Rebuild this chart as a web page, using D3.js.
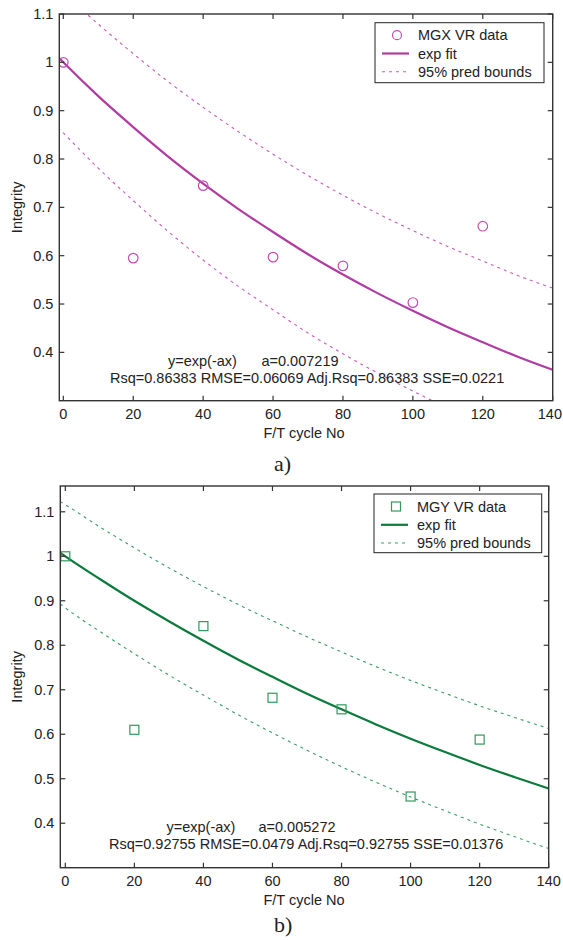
<!DOCTYPE html>
<html>
<head>
<meta charset="utf-8">
<script src="https://cdn.jsdelivr.net/npm/d3@7/dist/d3.min.js"></script>
<style>
  html, body { margin: 0; padding: 0; background: #fff; }
  svg { display: block; }
  text { font-family: "Liberation Sans", Arial, sans-serif; fill: #222; }
</style>
</head>
<body>
<svg id="chart" width="563" height="940"></svg>
<script>
// ---------- data ----------
const cycles = [0, 20, 40, 60, 80, 100, 120];
const mgxData = [1.0, 0.595, 0.745, 0.597, 0.579, 0.503, 0.661];
const mgyData = [1.0, 0.610, 0.843, 0.682, 0.656, 0.460, 0.588];

const fitX = [-1.5, 0, 10, 20, 30, 40, 50, 60, 70, 80, 90, 100, 110, 120, 130, 140];
const mgxFit   = [1.011, 1.000, 0.930, 0.866, 0.805, 0.749, 0.697, 0.649, 0.603, 0.561, 0.522, 0.486, 0.452, 0.421, 0.391, 0.364];
const mgxUpper = [1.158, 1.146, 1.079, 1.018, 0.960, 0.907, 0.857, 0.810, 0.766, 0.725, 0.687, 0.652, 0.619, 0.589, 0.559, 0.533];
const mgxLower = [0.865, 0.854, 0.781, 0.714, 0.650, 0.591, 0.537, 0.488, 0.440, 0.397, 0.357, 0.320, 0.285, 0.253, 0.223, 0.195];
const mgyFit   = [1.008, 1.000, 0.949, 0.900, 0.854, 0.810, 0.768, 0.729, 0.691, 0.656, 0.622, 0.590, 0.560, 0.531, 0.504, 0.478];
const mgyUpper = [1.123, 1.116, 1.066, 1.019, 0.974, 0.932, 0.892, 0.855, 0.819, 0.785, 0.752, 0.721, 0.692, 0.664, 0.638, 0.613];
const mgyLower = [0.893, 0.884, 0.831, 0.781, 0.733, 0.688, 0.644, 0.603, 0.564, 0.527, 0.492, 0.459, 0.428, 0.398, 0.370, 0.343];

const xTicks = [0, 20, 40, 60, 80, 100, 120, 140];
const yTicks = [0.4, 0.5, 0.6, 0.7, 0.8, 0.9, 1.0, 1.1];
const yTickLabels = ["0.4", "0.5", "0.6", "0.7", "0.8", "0.9", "1", "1.1"];
const legendLabelsA = ["MGX VR data", "exp fit", "95% pred bounds"];
const legendLabelsB = ["MGY VR data", "exp fit", "95% pred bounds"];
const annotA = ["y=exp(-ax)", "a=0.007219", "Rsq=0.86383 RMSE=0.06069 Adj.Rsq=0.86383 SSE=0.0221"];
const annotB = ["y=exp(-ax)", "a=0.005272", "Rsq=0.92755 RMSE=0.0479 Adj.Rsq=0.92755 SSE=0.01376"];

// ---------- drawing ----------
const svg = d3.select("#chart");
const FS = 14.5;
const W = 563;

function panel(cfg) {
  const g = svg.append("g");
  const x = d3.scaleLinear().domain(cfg.xDomain).range([cfg.left, cfg.right]);
  const y = d3.scaleLinear().domain(cfg.yDomain).range([cfg.bottom, cfg.top]);
  const clipId = "clip" + cfg.id;
  svg.append("clipPath").attr("id", clipId).append("rect")
    .attr("x", cfg.left).attr("y", cfg.top)
    .attr("width", cfg.right - cfg.left).attr("height", cfg.bottom - cfg.top);

  const plot = g.append("g").attr("clip-path", `url(#${clipId})`);
  const line = d3.line().x(d => x(d[0])).y(d => y(d[1])).curve(d3.curveMonotoneX);

  [cfg.upper, cfg.lower].forEach(arr => {
    plot.append("path")
      .attr("d", line(fitX.map((v, i) => [v, arr[i]])))
      .attr("fill", "none").attr("stroke", cfg.dashColor)
      .attr("stroke-width", 1.1).attr("stroke-dasharray", "3,4");
  });
  plot.append("path")
    .attr("d", line(fitX.map((v, i) => [v, cfg.fit[i]])))
    .attr("fill", "none").attr("stroke", cfg.fitColor).attr("stroke-width", 2.2);

  cycles.forEach((c, i) => {
    const px = x(c), py = y(cfg.data[i]);
    if (cfg.marker === "circle") {
      plot.append("circle").attr("cx", px).attr("cy", py).attr("r", 4.8)
        .attr("fill", "none").attr("stroke", cfg.markColor).attr("stroke-width", 1.2);
    } else {
      plot.append("rect").attr("x", px - 4.5).attr("y", py - 4.5).attr("width", 9).attr("height", 9)
        .attr("fill", "none").attr("stroke", cfg.markColor).attr("stroke-width", 1.2);
    }
  });

  // axes: box + inward ticks
  const axG = g.append("g");
  axG.append("rect").attr("x", cfg.left).attr("y", cfg.top)
    .attr("width", cfg.right - cfg.left).attr("height", cfg.bottom - cfg.top)
    .attr("fill", "none").attr("stroke", "#333").attr("stroke-width", 1.4);
  const TL = 5;
  xTicks.forEach(t => {
    const px = x(t);
    axG.append("line").attr("x1", px).attr("x2", px).attr("y1", cfg.bottom).attr("y2", cfg.bottom - TL).attr("stroke", "#333").attr("stroke-width", 1.2);
    axG.append("line").attr("x1", px).attr("x2", px).attr("y1", cfg.top).attr("y2", cfg.top + TL).attr("stroke", "#333").attr("stroke-width", 1.2);
    const lbl = axG.append("text").attr("y", cfg.bottom + 18).attr("font-size", FS).text(t);
    if (px + 12 > W - 1) {
      lbl.attr("x", W - 1).attr("text-anchor", "end");
    } else {
      lbl.attr("x", px).attr("text-anchor", "middle");
    }
  });
  yTicks.forEach((t, i) => {
    const py = y(t);
    axG.append("line").attr("x1", cfg.left).attr("x2", cfg.left + TL).attr("y1", py).attr("y2", py).attr("stroke", "#333").attr("stroke-width", 1.2);
    axG.append("line").attr("x1", cfg.right).attr("x2", cfg.right - TL).attr("y1", py).attr("y2", py).attr("stroke", "#333").attr("stroke-width", 1.2);
    axG.append("text").attr("x", cfg.left - 6).attr("y", py + 5).attr("text-anchor", "end")
      .attr("font-size", FS).text(yTickLabels[i]);
  });

  // axis titles
  g.append("text").attr("x", 304).attr("y", cfg.bottom + 37).attr("text-anchor", "middle")
    .attr("font-size", FS).text("F/T cycle No");
  const cy = (cfg.top + cfg.bottom) / 2;
  g.append("text").attr("transform", `translate(22,${cy}) rotate(-90)`).attr("text-anchor", "middle")
    .attr("font-size", FS).text("Integrity");

  // annotation
  g.append("text").attr("x", cfg.annX1).attr("y", cfg.annY1).attr("font-size", FS).text(cfg.annot[0]);
  g.append("text").attr("x", cfg.annX2).attr("y", cfg.annY1).attr("font-size", FS).text(cfg.annot[1]);
  g.append("text").attr("x", cfg.annX3).attr("y", cfg.annY1 + 17).attr("font-size", FS).text(cfg.annot[2]);

  // legend
  const L = cfg.legend;
  const lg = g.append("g");
  lg.append("rect").attr("x", L.x0).attr("y", L.y0).attr("width", L.x1 - L.x0).attr("height", L.y1 - L.y0)
    .attr("fill", "#fff").attr("stroke", "#222").attr("stroke-width", 1);
  const rows = [L.y0 + 12.5, L.y0 + 30.8, L.y0 + 49];
  const symX = L.x0 + 22;
  if (cfg.marker === "circle") {
    lg.append("circle").attr("cx", symX).attr("cy", rows[0]).attr("r", 4.5)
      .attr("fill", "none").attr("stroke", cfg.markColor).attr("stroke-width", 1.2);
  } else {
    lg.append("rect").attr("x", symX - 4.5).attr("y", rows[0] - 4.5).attr("width", 9).attr("height", 9)
      .attr("fill", "none").attr("stroke", cfg.markColor).attr("stroke-width", 1.2);
  }
  lg.append("line").attr("x1", L.x0 + 7).attr("x2", L.x0 + 34).attr("y1", rows[1]).attr("y2", rows[1])
    .attr("stroke", cfg.fitColor).attr("stroke-width", 2.2);
  lg.append("line").attr("x1", L.x0 + 7).attr("x2", L.x0 + 34).attr("y1", rows[2]).attr("y2", rows[2])
    .attr("stroke", cfg.dashColor).attr("stroke-width", 1.1).attr("stroke-dasharray", "3,4");
  cfg.legendLabels.forEach((s, i) => {
    lg.append("text").attr("x", L.x0 + 43).attr("y", rows[i] + 5).attr("font-size", FS).text(s);
  });

  // caption
  g.append("text").attr("x", 274).attr("y", cfg.capY)
    .style("font-family", "'Liberation Serif', 'Times New Roman', serif")
    .attr("font-size", 22).text(cfg.caption);
}

panel({
  id: "A", left: 59.3, right: 552.7, top: 14, bottom: 400.7,
  xDomain: [-1.15, 140], yDomain: [0.3, 1.1],
  data: mgxData, fit: mgxFit, upper: mgxUpper, lower: mgxLower,
  marker: "circle", markColor: "#c24db5", fitColor: "#b03ca2", dashColor: "#c75cba",
  legend: { x0: 375, x1: 544, y0: 22.7, y1: 82.7 }, legendLabels: legendLabelsA,
  annot: annotA, annX1: 168, annX2: 261.5, annX3: 110, annY1: 366,
  caption: "a)", capY: 471
});

panel({
  id: "B", left: 60.3, right: 548.7, top: 486, bottom: 867.7,
  xDomain: [-1.45, 140], yDomain: [0.3, 1.158],
  data: mgyData, fit: mgyFit, upper: mgyUpper, lower: mgyLower,
  marker: "square", markColor: "#2f9a5c", fitColor: "#0b7a3c", dashColor: "#3a9d66",
  legend: { x0: 374, x1: 541.7, y0: 494, y1: 552.7 }, legendLabels: legendLabelsB,
  annot: annotB, annX1: 166.5, annX2: 258.5, annX3: 109, annY1: 832,
  caption: "b)", capY: 932
});
</script>
</body>
</html>
